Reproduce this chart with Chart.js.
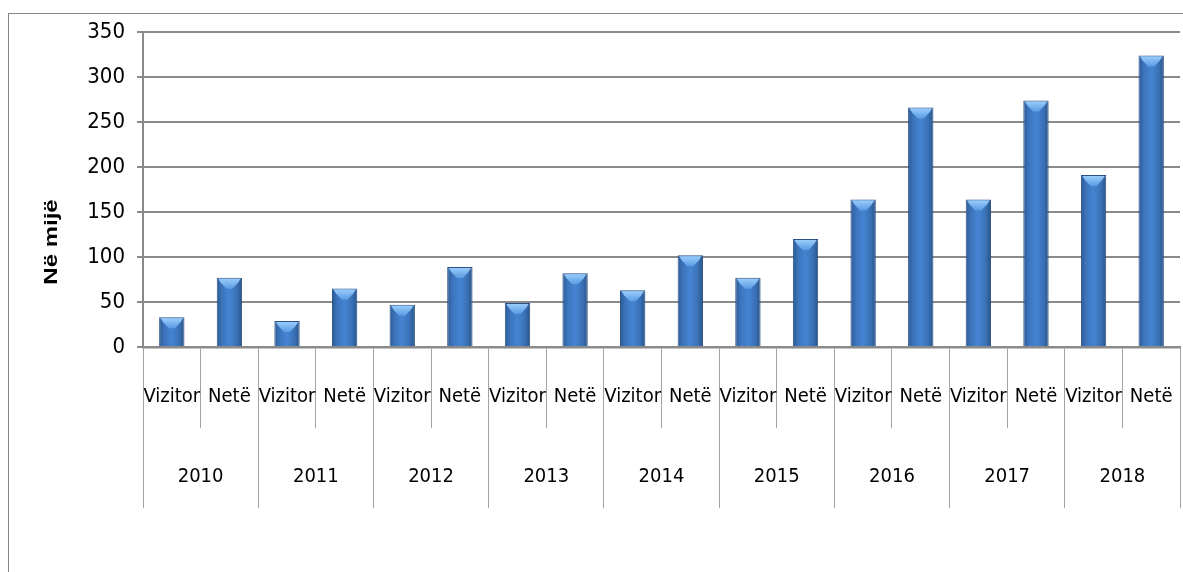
<!DOCTYPE html>
<html>
<head>
<meta charset="utf-8">
<script src="https://cdn.jsdelivr.net/npm/chart.js@4"></script>
<style>
html, body { margin: 0; padding: 0; background: #fff; overflow: hidden; }
#wrap { position: relative; width: 1183px; height: 572px; }
#frame { position: absolute; left: 8px; top: 13px; width: 1300px; height: 700px; border: 1px solid #868686; }
canvas { position: absolute; left: 0; top: 0; }
</style>
</head>
<body>
<div id="wrap">
  <div id="frame"></div>
  <canvas id="chart" width="1183" height="572"></canvas>
</div>
<script>
const years = ["2010", "2011", "2012", "2013", "2014", "2015", "2016", "2017", "2018"];
const seriesNames = ["Vizitor", "Netë"];
const visitors = [33, 29, 47, 49, 63, 77, 164, 164, 191];
const nights = [77, 65, 89, 82, 102, 120, 266, 274, 324];
const yMin = 0, yMax = 350, yStep = 50;
const yTitle = "Në mijë";

// one bar per (year, series) pair, in reading order
const labels = years.flatMap(() => seriesNames);
const values = years.flatMap((y, i) => [visitors[i], nights[i]]);

const narrow = "'Liberation Sans Narrow', 'DejaVu Sans Condensed', 'Arial Narrow', sans-serif";
const gridColor = "#8a8a8a";
const dividerColor = "#a3a3a3";

function barGradient(context) {
    const chart = context.chart;
    const xs = chart.scales.x;
    if (!xs || xs.width === undefined) return "#3f78c0";
    const cx = xs.getPixelForValue(context.dataIndex);
    const w = 25;
    const g = chart.ctx.createLinearGradient(cx - w / 2, 0, cx + w / 2, 0);
    g.addColorStop(0, "#2d5a94");
    g.addColorStop(0.2, "#3b74bc");
    g.addColorStop(0.5, "#4584d2");
    g.addColorStop(0.8, "#3a71b6");
    g.addColorStop(1, "#2a5488");
    return g;
}

const barCaps = {
    id: "barCaps",
    afterDatasetsDraw(chart) {
        const ctx = chart.ctx;
        chart.getDatasetMeta(0).data.forEach(bar => {
            const l = bar.x - bar.width / 2, r = bar.x + bar.width / 2, t = bar.y;
            const g = ctx.createLinearGradient(0, t, 0, t + 11);
            g.addColorStop(0, "#9fd1ff");
            g.addColorStop(1, "#5a9be2");
            ctx.save();
            ctx.fillStyle = g;
            ctx.beginPath();
            ctx.moveTo(l + 1.5, t + 1);
            ctx.lineTo(r - 1.5, t + 1);
            ctx.lineTo(r - 4, t + 5);
            ctx.lineTo(bar.x + 3, t + 11);
            ctx.lineTo(bar.x - 3, t + 11);
            ctx.lineTo(l + 4, t + 5);
            ctx.closePath();
            ctx.fill();
            ctx.restore();
        });
    }
};

const axisTitle = {
    id: "axisTitle",
    afterDraw(chart) {
        const ctx = chart.ctx;
        ctx.save();
        ctx.translate(52, 242);
        ctx.scale(0.75, 1);
        ctx.rotate(-Math.PI / 2);
        ctx.font = "bold 24px 'Liberation Sans', Arial, sans-serif";
        ctx.fillStyle = "#000";
        ctx.textAlign = "center";
        ctx.textBaseline = "middle";
        ctx.fillText(yTitle, 0, 0);
        ctx.restore();
    }
};

new Chart(document.getElementById("chart").getContext("2d"), {
    type: "bar",
    data: {
        labels: labels,
        datasets: [{
            data: values,
            backgroundColor: barGradient,
            borderColor: "#2a5286",
            borderWidth: 1,
            borderSkipped: "bottom",
            barPercentage: 0.44,
            categoryPercentage: 1
        }]
    },
    options: {
        responsive: false,
        animation: false,
        layout: { padding: { left: 0, right: 3, top: 32, bottom: 64 } },
        plugins: { legend: { display: false }, tooltip: { enabled: false } },
        scales: {
            y: {
                min: yMin,
                max: yMax,
                ticks: {
                    stepSize: yStep,
                    color: "#000",
                    padding: 12,
                    font: { family: narrow, size: 22 }
                },
                grid: { color: gridColor, lineWidth: 2, tickLength: 6 },
                border: { display: true, color: gridColor, width: 2 },
                afterFit: s => { s.width = 143; }
            },
            x: {
                offset: true,
                weight: 0,
                ticks: {
                    color: "#000",
                    padding: -43,
                    maxRotation: 0,
                    autoSkip: false,
                    font: { family: narrow, size: 20 }
                },
                grid: { drawOnChartArea: false, color: dividerColor, lineWidth: 1, tickLength: 81 },
                border: { display: true, color: gridColor, width: 2.5 },
                afterFit: s => { s.height = 81; }
            },
            x2: {
                type: "category",
                labels: years,
                position: "bottom",
                offset: true,
                weight: 1,
                ticks: {
                    color: "#000",
                    padding: -43,
                    maxRotation: 0,
                    autoSkip: false,
                    font: { family: narrow, size: 20 }
                },
                grid: { drawOnChartArea: false, color: dividerColor, lineWidth: 1, tickLength: 80 },
                border: { display: false },
                afterFit: s => { s.height = 80; }
            }
        }
    },
    plugins: [barCaps, axisTitle]
});
</script>
</body>
</html>
